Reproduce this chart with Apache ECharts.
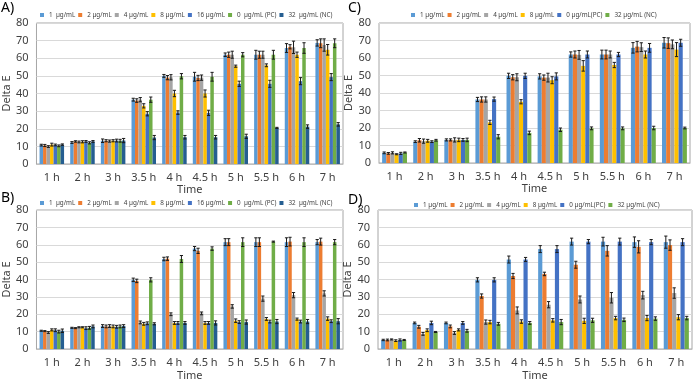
<!DOCTYPE html>
<html>
<head>
<meta charset="utf-8">
<script src="https://cdn.jsdelivr.net/npm/echarts@6/dist/echarts.min.js"></script>
<style>
  html, body { margin: 0; padding: 0; background: #fff; }
  #chart { width: 694px; height: 382px; }
</style>
</head>
<body>
<div id="chart"></div>
<script>
const FONT = '"Noto Sans", "Open Sans", sans-serif';

const times = ["1 h", "2 h", "3 h", "3.5 h", "4 h", "4.5 h", "5 h", "5.5 h", "6 h", "7 h"];

// legend names per panel (A/B share the 7-series set, C/D the 6-series set)
const namesAB = ["1  µg/mL", "2 µg/mL", "4 µg/mL", "8 µg/mL", "16 µg/mL", "0  µg/mL (PC)", "32  µg/mL (NC)"];
const namesCD = ["1 µg/mL", "2 µg/mL", "4 µg/mL", "8 µg/mL", "0 µg/mL(PC)", "32 µg/mL (NC)"];
const colorsAB = ["#5B9BD5", "#ED7D31", "#A5A5A5", "#FFC000", "#4472C4", "#70AD47", "#255E91"];
const colorsCD = ["#5B9BD5", "#ED7D31", "#A5A5A5", "#FFC000", "#4472C4", "#70AD47"];

// panel A — one row per series, one value per time point
const valuesA = [
  [10.7, 12.2, 13.2, 36.5, 50.0, 49.5, 62.0, 62.0, 65.8, 68.7],
  [10.5, 12.8, 13.2, 36.0, 49.0, 48.8, 62.0, 62.0, 66.5, 68.5],
  [9.9, 12.5, 13.0, 36.5, 49.2, 49.0, 62.0, 62.0, 66.2, 67.5],
  [11.0, 12.6, 13.2, 33.0, 40.0, 40.0, 55.5, 56.0, 62.0, 64.8],
  [10.8, 12.8, 13.3, 28.5, 29.2, 29.0, 45.5, 45.5, 47.0, 49.3],
  [10.3, 12.0, 13.2, 36.5, 49.8, 49.5, 62.0, 62.0, 65.8, 68.5],
  [11.0, 12.8, 13.3, 15.0, 15.2, 15.2, 15.7, 20.5, 21.2, 22.5]
];
const errorsA = [
  [0.5, 0.5, 1.0, 0.8, 0.8, 2.5, 1.0, 2.5, 2.5, 1.8],
  [0.6, 0.4, 0.6, 1.0, 1.2, 1.5, 1.5, 2.0, 1.2, 2.5],
  [0.5, 0.5, 0.6, 1.2, 1.5, 1.5, 2.0, 2.0, 3.5, 3.5],
  [0.8, 0.6, 0.6, 1.2, 1.8, 2.0, 0.6, 0.8, 1.5, 3.0],
  [0.5, 0.5, 0.8, 1.2, 1.0, 1.5, 1.5, 2.0, 2.0, 2.0],
  [0.5, 0.6, 0.8, 1.5, 1.5, 2.5, 1.2, 2.5, 3.0, 2.5],
  [0.4, 0.5, 1.2, 1.2, 1.0, 1.0, 1.2, 0.3, 1.0, 1.0]
];

// panel B
const valuesB = [
  [10.5, 12.2, 13.2, 39.8, 51.8, 57.8, 61.5, 61.5, 61.5, 61.5],
  [10.3, 12.0, 13.0, 39.2, 52.0, 56.5, 61.5, 61.5, 61.8, 61.8],
  [9.5, 12.5, 13.2, 15.3, 20.0, 20.5, 24.5, 29.0, 31.0, 32.0],
  [11.0, 12.5, 13.0, 14.5, 15.0, 15.0, 16.3, 17.3, 17.2, 17.5],
  [10.8, 12.0, 12.8, 14.8, 15.0, 15.0, 15.5, 15.8, 15.8, 16.0],
  [10.0, 12.2, 13.0, 39.8, 51.8, 57.8, 61.5, 61.8, 61.5, 61.5],
  [10.5, 13.0, 13.2, 14.5, 15.0, 15.0, 15.5, 15.8, 15.8, 16.0]
];
const errorsB = [
  [0.3, 0.3, 0.8, 1.0, 1.0, 1.2, 2.0, 2.5, 2.5, 1.5],
  [0.3, 0.3, 0.8, 1.0, 1.0, 1.5, 2.0, 2.5, 2.5, 2.0],
  [0.5, 0.3, 0.8, 0.8, 0.8, 0.8, 1.0, 1.5, 1.5, 1.5],
  [0.6, 0.3, 0.8, 0.8, 0.8, 0.8, 1.0, 0.8, 0.6, 1.0],
  [0.8, 0.8, 0.8, 0.8, 0.8, 0.8, 0.8, 0.8, 0.8, 0.8],
  [0.8, 0.8, 0.8, 1.2, 2.0, 1.0, 2.5, 0.3, 2.5, 1.5],
  [1.0, 0.8, 0.8, 0.6, 0.8, 1.2, 1.2, 1.2, 1.2, 1.5]
];

// panel C
const valuesC = [
  [5.8, 12.2, 13.2, 36.3, 49.8, 49.5, 62.0, 62.0, 65.8, 68.7],
  [5.5, 13.0, 13.2, 36.3, 49.0, 48.8, 62.0, 62.0, 66.5, 68.5],
  [5.8, 12.5, 13.2, 36.3, 49.0, 48.8, 61.8, 62.0, 66.2, 67.8],
  [5.0, 12.7, 13.2, 23.2, 35.0, 47.3, 55.5, 56.0, 62.0, 64.8],
  [5.5, 12.2, 13.2, 36.5, 49.8, 49.5, 62.0, 62.0, 65.8, 68.7],
  [6.0, 13.0, 13.2, 15.0, 17.2, 19.0, 19.8, 19.8, 20.0, 20.0]
];
const errorsC = [
  [0.5, 0.5, 0.6, 1.2, 1.5, 1.5, 1.5, 2.5, 3.0, 3.0],
  [0.5, 1.0, 0.6, 1.5, 1.5, 1.5, 2.0, 2.5, 3.0, 3.0],
  [0.6, 1.2, 1.2, 1.5, 2.0, 2.5, 2.5, 2.0, 2.5, 2.5],
  [0.3, 0.8, 1.0, 1.2, 1.2, 2.0, 3.0, 1.5, 2.0, 4.0],
  [0.6, 0.5, 0.8, 1.2, 1.5, 2.0, 2.0, 1.2, 2.5, 2.0],
  [0.3, 0.5, 1.0, 1.2, 1.0, 1.0, 0.8, 0.8, 1.0, 0.5]
];

// panel D
const valuesD = [
  [5.2, 15.0, 15.0, 39.8, 51.5, 57.5, 61.8, 61.8, 61.5, 61.5],
  [5.2, 12.8, 13.0, 30.5, 42.0, 43.2, 48.5, 56.5, 58.8, 59.8],
  [5.5, 8.7, 9.2, 15.5, 22.2, 25.5, 28.5, 29.5, 31.0, 32.2],
  [4.8, 10.8, 11.0, 15.5, 15.8, 16.5, 16.2, 17.8, 17.8, 18.3],
  [5.2, 15.0, 15.0, 39.8, 51.5, 57.5, 61.8, 61.8, 61.5, 61.5],
  [5.2, 9.8, 10.5, 14.5, 15.0, 15.5, 16.5, 16.8, 17.5, 17.8]
];
const errorsD = [
  [0.4, 0.5, 0.5, 1.2, 2.0, 2.0, 2.0, 2.5, 3.0, 3.5],
  [0.5, 0.8, 0.8, 1.2, 1.5, 1.0, 2.0, 3.0, 3.5, 3.0],
  [0.3, 0.8, 0.8, 1.2, 2.0, 1.8, 2.0, 3.0, 2.2, 3.0],
  [0.5, 0.8, 0.6, 1.0, 1.0, 1.0, 1.5, 1.0, 1.5, 1.5],
  [0.6, 1.0, 0.8, 1.2, 1.2, 2.0, 1.2, 2.0, 1.5, 2.0],
  [0.3, 0.3, 0.8, 0.8, 0.8, 1.5, 1.2, 1.0, 1.0, 1.0]
];

// panel layout: grid box, legend start, "A)" label spot, x-name gap
const panels = [
  { key: "A", names: namesAB, colors: colorsAB, values: valuesA, errors: errorsA,
    grid: { left: 33, top: 23, width: 310, height: 141 }, legend: [40, 12], label: [1, 1], nameGap: 19 },
  { key: "C", names: namesCD, colors: colorsCD, values: valuesC, errors: errorsC,
    grid: { left: 379, top: 23, width: 311, height: 140 }, legend: [411, 12], label: [348, 1], nameGap: 19 },
  { key: "B", names: namesAB, colors: colorsAB, values: valuesB, errors: errorsB,
    grid: { left: 32, top: 210, width: 311, height: 140 }, legend: [40, 200], label: [1, 191], nameGap: 21 },
  { key: "D", names: namesCD, colors: colorsCD, values: valuesD, errors: errorsD,
    grid: { left: 378, top: 210, width: 314, height: 140 }, legend: [414, 202], label: [348, 193], nameGap: 21 }
];

const GAP = 0.2; // barCategoryGap as a fraction

const grids = [], xAxes = [], yAxes = [], legends = [], titles = [], series = [];

panels.forEach((p, pi) => {
  const n = p.names.length;
  grids.push(Object.assign({ show: true, borderColor: "#a6a6a6", borderWidth: 1 }, p.grid));

  xAxes.push({
    type: "category", gridIndex: pi, data: times,
    name: "Time", nameLocation: "middle", nameGap: p.nameGap,
    nameTextStyle: { fontFamily: FONT, fontSize: 11, color: "#404040" },
    axisTick: { show: false },
    axisLine: { lineStyle: { color: "#bfbfbf" } },
    axisLabel: { interval: 0, fontFamily: FONT, fontSize: 11, color: "#404040", margin: 8 }
  });

  yAxes.push({
    type: "value", gridIndex: pi, min: 0, max: 80, interval: 10,
    name: "Delta E", nameLocation: "middle", nameGap: 21, nameRotate: 90,
    nameTextStyle: { fontFamily: FONT, fontSize: 11, color: "#404040" },
    axisLine: { show: false }, axisTick: { show: false },
    axisLabel: { fontFamily: FONT, fontSize: 11, color: "#404040", margin: 8 },
    splitLine: { lineStyle: { color: "#d9d9d9", width: 1 } }
  });

  const tag = "#" + p.key;
  legends.push({
    data: p.names.map(nm => nm + tag),
    left: p.legend[0], top: p.legend[1], padding: 0,
    itemWidth: 4, itemHeight: 4, itemGap: 3, icon: "rect",
    textStyle: { fontFamily: FONT, fontSize: 6.3, color: "#404040" },
    formatter: nm => nm.split("#")[0],
    selectedMode: false
  });

  titles.push({
    text: p.key + ")", left: p.label[0], top: p.label[1], padding: 0,
    textStyle: { fontFamily: FONT, fontSize: 14, fontWeight: "normal", color: "#000" }
  });

  p.names.forEach((nm, si) => {
    series.push({
      name: nm + tag, type: "bar", xAxisIndex: pi, yAxisIndex: pi,
      data: p.values[si],
      barGap: "0%", barCategoryGap: (GAP * 100) + "%",
      itemStyle: { color: p.colors[si] },
      animation: false
    });
  });

  // error bars: [category, series, value, err]
  const errData = [];
  p.values.forEach((row, si) => row.forEach((v, ci) => errData.push([ci, si, v, p.errors[si][ci]])));
  series.push({
    type: "custom", xAxisIndex: pi, yAxisIndex: pi, data: errData, z: 10,
    silent: true, animation: false,
    encode: { x: 0, y: 2 },
    renderItem: (params, api) => {
      const ci = api.value(0), si = api.value(1), v = api.value(2), e = api.value(3);
      const band = api.size([1, 0])[0];
      const groupW = band * (1 - GAP);
      const bw = groupW / n;
      const cx = api.coord([ci, v])[0] - groupW / 2 + (si + 0.5) * bw;
      const yHi = api.coord([ci, v + e])[1];
      const yLo = api.coord([ci, v - e])[1];
      const cap = 1.6;
      const st = { stroke: "#1a1a1a", lineWidth: 1 };
      return {
        type: "group",
        children: [
          { type: "line", shape: { x1: cx, y1: yHi, x2: cx, y2: yLo }, style: st },
          { type: "line", shape: { x1: cx - cap, y1: yHi, x2: cx + cap, y2: yHi }, style: st },
          { type: "line", shape: { x1: cx - cap, y1: yLo, x2: cx + cap, y2: yLo }, style: st }
        ]
      };
    }
  });
});

const chart = echarts.init(document.getElementById("chart"), null, { renderer: "canvas" });
chart.setOption({
  backgroundColor: "#fff",
  animation: false,
  title: titles,
  grid: grids,
  xAxis: xAxes,
  yAxis: yAxes,
  legend: legends,
  series
});
</script>
</body>
</html>
